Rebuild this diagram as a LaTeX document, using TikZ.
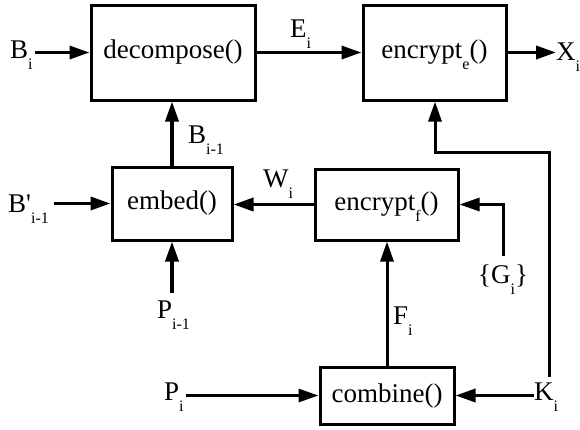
\documentclass[tikz,border=0pt]{standalone}
\usepackage{fontspec}
\setmainfont{Liberation Serif}
\usetikzlibrary{arrows.meta}
\newcommand{\lo}[1]{\raisebox{-11pt}[0pt][0pt]{\fontsize{16}{16}\selectfont #1}}
\tikzset{
  blk/.style={draw, line width=3pt, inner sep=0pt, font=\fontsize{27}{27}\selectfont},
  lbl/.style={inner sep=0pt, anchor=base west, font=\fontsize{27}{27}\selectfont},
  arr/.style={line width=3.5pt, -{Triangle[length=20pt,width=13pt]}},
  thin/.style={line width=3pt, -{Triangle[length=20pt,width=13pt]}}
}
\begin{document}
\begin{tikzpicture}[x=1pt,y=-1pt]
\useasboundingbox (0,0) rectangle (580,429);
% boxes
\node[blk, minimum width=164pt, minimum height=95pt] (dec) at (173,52.5) {decompose()};
\node[blk, minimum width=143pt, minimum height=95pt] (ence) at (434.5,52.5) {encrypt\lo{e}()};
\node[blk, minimum width=120pt, minimum height=73pt] (emb) at (172,203.5) {embed()};
\node[blk, minimum width=143pt, minimum height=71pt] (encf) at (386.5,204.5) {encrypt\lo{f}()};
\node[blk, minimum width=134pt, minimum height=57pt] (comb) at (387,395.5) {combine()};
% labels
\node[lbl] (bi) at (10,58) {B\lo{i}};
\node[lbl] (ei) at (290,37) {E\lo{i}};
\node[lbl] (xi) at (556,60) {X\lo{i}};
\node[lbl] (bm) at (188,143) {B\lo{i-1}};
\node[lbl] (bp) at (8,212) {B\textquotesingle\lo{i-1}};
\node[lbl] (wi) at (263,187) {W\lo{i}};
\node[lbl] (pm) at (157,318) {P\lo{i-1}};
\node[lbl] (gi) at (478,283) {\{G\lo{i}\}};
\node[lbl] (fi) at (393,324) {F\lo{i}};
\node[lbl] (pi) at (164,400) {P\lo{i}};
\node[lbl] (ki) at (534,400) {K\lo{i}};
% coordinates
\coordinate (pmtop) at ([yshift=7pt]pm.north);
\coordinate (gtop) at ([yshift=8pt]gi.north);
\coordinate (ktop) at ([xshift=3pt,yshift=5pt]ki.north);
\coordinate (kbend) at (435,152);
\coordinate (bpend) at ([xshift=5pt]bp.east);
\coordinate (biend) at ([xshift=2pt]bi.east);
\coordinate (piend) at ([xshift=2pt]pi.east);
% connectors
\draw[arr] (biend |- dec.west) -- (dec.west);
\draw[arr] (dec.east) -- (dec.east -| ence.west);
\draw[arr] (ence.east) -- (ence.east -| xi.west);
\draw[arr] (emb.north) -- (emb.north |- dec.south);
\draw[arr] (bpend |- emb.west) -- (emb.west);
\draw[arr] (encf.west) -- (encf.west -| emb.east);
\draw[arr] (pmtop -| emb.south) -- (emb.south);
\draw[thin] (gtop) |- (encf.east);
\draw[thin] (comb.north) -- (comb.north |- encf.south);
\draw[thin] (piend |- comb.west) -- (comb.west);
\draw[arr] (ki.west |- comb.east) -- (comb.east);
\draw[thin] (ktop) |- (kbend) -- (kbend |- ence.south);
\end{tikzpicture}
\end{document}
